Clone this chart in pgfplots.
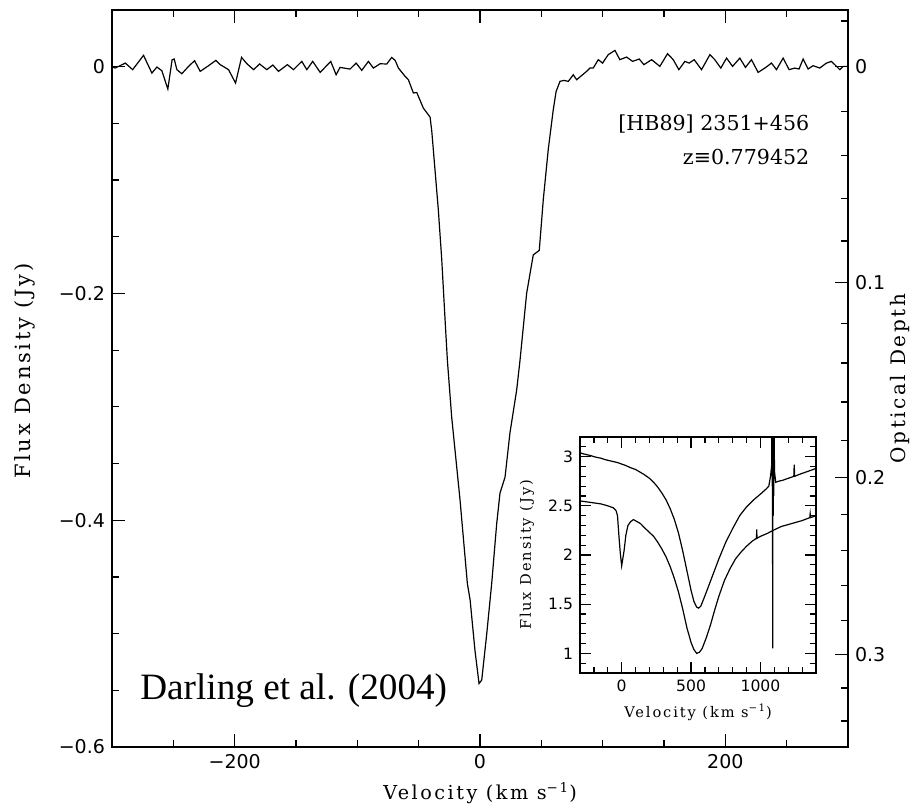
\documentclass[border=0pt]{standalone}
\usepackage{pgfplots}
\pgfplotsset{compat=1.18}
\usepackage{fontspec}
\newfontfamily\tck{DejaVu Sans}
\newfontfamily\lab[LetterSpace=13]{DejaVu Serif}
\newfontfamily\srf{DejaVu Serif}
\newfontfamily\tms{Liberation Serif}

\pgfplotsset{
  pg/.style={
    scale only axis,
    axis line style={line width=0.7pt},
    every tick/.style={black, line width=0.6pt},
    tick align=inside,
  },
}

\begin{document}
\begin{tikzpicture}
% main spectrum
\begin{axis}[pg,
    width=368pt, height=368.5pt,
    xmin=-300, xmax=300, ymin=-0.6, ymax=0.05,
    clip=false,
    xtick={-200,0,200},
    xticklabels={−200,0,200},
    minor xtick={-250,-150,-100,-50,50,100,150,250},
    ytick={-0.6,-0.4,-0.2,0},
    yticklabels={−0.6,−0.4,−0.2,0},
    minor ytick={-0.55,-0.5,-0.45,-0.35,-0.3,-0.25,-0.15,-0.1,-0.05,0.05},
    ytick pos=left,
    major tick length=6.5pt, minor tick length=3.3pt,
    tick label style={font=\fontsize{9.5}{11}\tck},
    xlabel={Velocity (km s\textsuperscript{−1})},
    ylabel={Flux Density (Jy)},
    every axis x label/.style={at={(rel axis cs:0.5,-0.0624)}, anchor=center, font=\fontsize{9.6}{11}\lab},
    every axis y label/.style={at={(rel axis cs:-0.118,0.51)}, rotate=90, anchor=center, font=\fontsize{10.5}{12}\lab},
]
\addplot[black, line width=0.6pt] coordinates {
(-300,0.000) (-297.4,-0.0012) (-289.2,0.0032) (-283.2,-0.0026) (-274.3,0.0100)
(-267.5,-0.0056) (-263.4,-0.0003) (-259.4,-0.0035) (-254.5,-0.0197) (-251,0.0062)
(-249.3,0.0068) (-247.1,-0.0026) (-243.1,-0.0062) (-237.6,0.0003) (-232.7,0.0053)
(-228.1,-0.0041) (-221.3,0.0009) (-215.3,0.0056) (-211.8,0.0018) (-205,-0.0026)
(-199.3,-0.0144) (-194.4,0.0082) (-190,0.0026) (-184.6,-0.0026) (-179.7,0.0024)
(-173.8,-0.0026) (-168.9,0.0015) (-164.3,-0.0041) (-157,0.0018) (-152.1,-0.0026)
(-145.3,0.0047) (-141.2,-0.0026) (-136.4,0.0047) (-130.3,-0.0050) (-121.7,0.0047)
(-117.3,-0.0071) (-114.1,-0.0006) (-106,-0.0021) (-101,0.0032) (-96.4,-0.0032)
(-91,0.0047) (-86.9,-0.0012) (-81.5,0.0026) (-76,0.0024) (-72,0.0082)
(-69.2,0.0056) (-66.5,-0.0012) (-61.1,-0.0085) (-58.4,-0.0115) (-54.3,-0.0232)
(-51.6,-0.0227) (-46.2,-0.0365) (-42.1,-0.0424) (-40.7,-0.0444)
(-39.3,-0.0571) (-36.7,-0.0909) (-34,-0.126) (-31.2,-0.170) (-28.5,-0.223) (-26.6,-0.259)
(-23.1,-0.309) (-16.3,-0.382) (-10.3,-0.456) (-8.1,-0.470) (-4.1,-0.515) (-0.8,-0.544)
(1.4,-0.541) (5.5,-0.500) (9.5,-0.456) (13.6,-0.403) (16.3,-0.376) (20.4,-0.362)
(24.4,-0.323) (29.9,-0.285) (32.6,-0.259)
(38,-0.200) (43.4,-0.166) (48.3,-0.162) (51.6,-0.117) (55.6,-0.0733) (59.7,-0.038)
(62,-0.022) (65.2,-0.0129) (68.4,-0.0121) (72,-0.0129) (76,-0.0071) (78.8,-0.0115)
(81.5,-0.009) (86.9,-0.0041) (89.6,-0.0012) (92.3,-0.0012) (96.4,0.0062) (99.9,0.0032)
(104.5,0.0106) (110,0.0144) (114,0.0062) (119.5,0.0085) (124.4,0.0047) (129.8,0.0068)
(133.6,0.0018) (139.9,0.0062) (146.6,0.0003) (152.9,0.0115) (157.5,0.0062) (162.1,-0.0026)
(167,0.0047) (170.5,0.0032) (174.6,0.0062) (180.6,-0.0026) (187.4,0.0106) (191.4,0.0062)
(196.3,-0.0012) (201,0.0076) (205.9,0.0003) (211.8,0.0076) (216.4,-0.0006) (221.3,0.0062)
(226.7,-0.005) (232.2,-0.0012) (237.6,0.0032) (241.7,-0.0026) (247.1,0.0076) (252,-0.0026)
(256.6,-0.0012) (260.1,-0.002) (263.4,0.0068) (267.5,-0.002) (271.5,0.0009) (277,-0.0012)
(282.4,0.0032) (286.5,0.0047) (290.6,0.0003) (293.3,-0.0026) (296,0.0003) (300,0.0003)
};
\node[anchor=base west, font=\fontsize{18.6}{20}\tms] at (axis cs:-282.7,-0.558) {Darling et al. (2004)};
\node[anchor=base east, font=\fontsize{10.3}{12}\srf, inner sep=0pt] at (axis cs:268.8,-0.0562) {[HB89] 2351+456};
\node[anchor=base east, font=\fontsize{10.3}{12}\srf, inner sep=0pt] at (axis cs:268.8,-0.0865) {z≡0.779452};
% picture frame
\path (rel axis cs:-0.1522,-0.0801) rectangle (rel axis cs:1.0951,1.0136);
\end{axis}

% optical depth scale (continuum 2.0 Jy)
\begin{axis}[pg,
    width=368pt, height=368.5pt,
    xmin=-300, xmax=300, ymin=-0.6, ymax=0.05,
    hide x axis,
    axis y line*=right,
    ytick={0,-0.1903,-0.3625,-0.5184},
    yticklabels={0,0.1,0.2,0.3},
    minor ytick={0.0404,-0.0396,-0.0784,-0.1165,-0.1538,-0.2262,-0.2613,-0.2957,-0.3294,-0.3950,-0.4267,-0.4578,-0.4882,-0.5479,-0.5770},
    major tick length=6.5pt, minor tick length=3.3pt,
    tick label style={font=\fontsize{9.5}{11}\tck},
    ylabel={Optical Depth},
    every axis y label/.style={at={(rel axis cs:1.0707,0.5)}, rotate=90, anchor=center, font=\fontsize{10}{12}\lab},
]
\end{axis}

% inset: full spectra
\begin{axis}[pg,
    at={(234pt,37pt)}, anchor=south west,
    width=118pt, height=118pt,
    xmin=-300, xmax=1400, ymin=0.8, ymax=3.2,
    axis background/.style={fill=white},
    xtick={0,500,1000},
    xticklabels={0,500,1000},
    minor xtick={-200,-100,100,200,300,400,600,700,800,900,1100,1200,1300},
    ytick={1,1.5,2,2.5,3},
    yticklabels={1,1.5,2,2.5,3},
    minor ytick={0.9,1.1,1.2,1.3,1.4,1.6,1.7,1.8,1.9,2.1,2.2,2.3,2.4,2.6,2.7,2.8,2.9,3.1},
    major tick length=5.5pt, minor tick length=3pt,
    tick label style={font=\fontsize{7.8}{9}\tck},
    xlabel={Velocity (km s\textsuperscript{−1})},
    ylabel={Flux Density (Jy)},
    every axis x label/.style={at={(rel axis cs:0.5,-0.165)}, anchor=center, font=\fontsize{7.3}{9}\lab},
    every axis y label/.style={at={(rel axis cs:-0.225,0.5)}, rotate=90, anchor=center, font=\fontsize{7.3}{9}\lab},
]
\addplot[black, line width=0.6pt] coordinates {
(-300,3.04) (-280,3.03) (-250,3.02) (-220,3.01) (-200,3.00) (-170,2.99) (-150,2.985)
(-120,2.97) (-90,2.96) (-60,2.95) (-30,2.94) (0,2.925) (30,2.91) (60,2.89) (100,2.87)
(130,2.845) (160,2.82) (200,2.78) (230,2.74) (260,2.69) (290,2.63) (320,2.56) (350,2.47)
(380,2.36) (410,2.22) (440,2.04) (470,1.84) (500,1.64) (520,1.53) (540,1.47) (555,1.46)
(570,1.48) (590,1.55) (620,1.66) (660,1.81) (700,1.96) (750,2.13) (800,2.27) (850,2.40)
(900,2.49) (950,2.56) (1000,2.62) (1040,2.67) (1060,2.70) (1072,2.80) (1080,2.90)
(1082,3.3) (1084,2.7) (1086,3.3) (1088,1.05) (1090,3.3) (1092,2.4) (1094,3.3) (1096,2.6)
(1098,3.3) (1101,2.85) (1105,2.8) (1110,2.74) (1130,2.75) (1160,2.76) (1200,2.78)
(1240,2.80) (1243,2.92) (1246,2.80) (1280,2.82) (1320,2.84) (1360,2.86) (1400,2.88)
};
\addplot[black, line width=0.6pt] coordinates {
(-300,2.55) (-250,2.54) (-200,2.53) (-150,2.52) (-100,2.50) (-60,2.48) (-40,2.45)
(-30,2.40) (-20,2.20) (-10,2.02) (0,1.89) (8,1.96) (18,2.05) (30,2.20) (45,2.30)
(65,2.34) (85,2.36) (110,2.34) (135,2.32) (170,2.27) (200,2.23) (230,2.19) (260,2.13)
(290,2.06) (320,1.98) (350,1.88) (380,1.76) (410,1.62) (440,1.45) (470,1.26) (500,1.11)
(520,1.04) (540,1.00) (560,1.01) (580,1.05) (610,1.16) (640,1.29) (670,1.44) (700,1.58)
(740,1.74) (780,1.86) (820,1.96) (860,2.03) (900,2.09) (940,2.14) (971,2.17) (973,2.26)
(975,2.17) (1000,2.19) (1050,2.22) (1090,2.25) (1150,2.29) (1200,2.31) (1250,2.33)
(1300,2.35) (1355,2.38) (1358,2.42) (1361,2.38) (1400,2.40)
};
\end{axis}
\end{tikzpicture}
\end{document}
